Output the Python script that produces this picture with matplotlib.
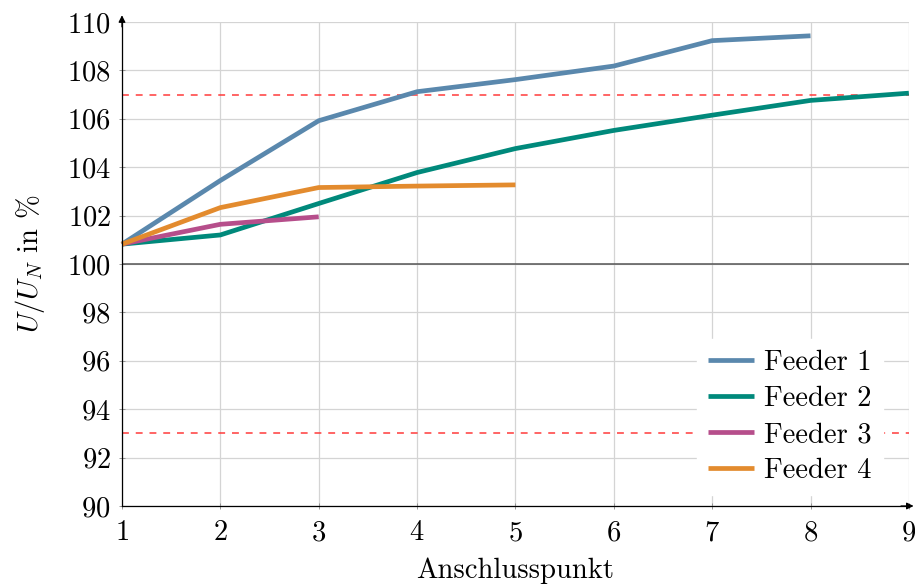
import matplotlib
matplotlib.use("Agg")
import matplotlib.pyplot as plt

# Connection points along each feeder and the voltage at each (in % of U_N)
feeder1_x = [1, 2, 3, 4, 5, 6, 7, 8]
feeder1_u = [100.82, 103.45, 105.92, 107.12, 107.62, 108.18, 109.23, 109.43]

feeder2_x = [1, 2, 3, 4, 5, 6, 7, 8, 9]
feeder2_u = [100.82, 101.20, 102.50, 103.78, 104.77, 105.52, 106.15, 106.76, 107.06]

feeder3_x = [1, 2, 3]
feeder3_u = [100.82, 101.64, 101.95]

feeder4_x = [1, 2, 3, 4, 5]
feeder4_u = [100.82, 102.33, 103.16, 103.22, 103.27]

series_labels = ["Feeder 1", "Feeder 2", "Feeder 3", "Feeder 4"]
series_colors = ["#5a88ad", "#00897b", "#b64e8b", "#e38b2e"]

upper_limit = 107
lower_limit = 93
nominal = 100

x_ticks = [1, 2, 3, 4, 5, 6, 7, 8, 9]
y_ticks = [90, 92, 94, 96, 98, 100, 102, 104, 106, 108, 110]

plt.rcParams["font.family"] = "serif"
plt.rcParams["font.serif"] = ["cmr10"]
plt.rcParams["mathtext.fontset"] = "cm"
plt.rcParams["axes.formatter.use_mathtext"] = True
plt.rcParams["font.size"] = 20.6

fig = plt.figure(figsize=(9.15, 5.87), dpi=100)
ax = fig.add_axes([0.1333, 0.138, 0.86, 0.8245])

ax.set_xlim(1, 9)
ax.set_ylim(90, 110)
ax.set_xticks(x_ticks)
ax.set_yticks(y_ticks)
ax.grid(True, color="#d4d4d4", linewidth=0.9)
ax.set_axisbelow(True)

for s in ("top", "right"):
    ax.spines[s].set_visible(False)
for s in ("left", "bottom"):
    ax.spines[s].set_linewidth(0.9)
    ax.spines[s].set_zorder(5)

ax.tick_params(direction="inout", length=4, width=0.6, color="#888888", pad=6)
ax.tick_params(axis="x", pad=8)

# arrow heads at the ends of the axes
ax.annotate("", xy=(0, 1.014), xytext=(0, 0.99), xycoords="axes fraction",
            arrowprops=dict(arrowstyle="-|>", color="black", lw=0.9,
                            mutation_scale=10, shrinkA=0, shrinkB=0),
            annotation_clip=False)
ax.annotate("", xy=(1.006, 0), xytext=(0.99, 0), xycoords="axes fraction",
            arrowprops=dict(arrowstyle="-|>", color="black", lw=0.9,
                            mutation_scale=10, shrinkA=0, shrinkB=0),
            annotation_clip=False)

ax.axhline(nominal, color="#555555", linewidth=1.1, zorder=2)
for lim in (upper_limit, lower_limit):
    ax.axhline(lim, color="#ff3b3b", linewidth=1.1, dashes=(4.5, 4.5), zorder=2)

series = [(feeder1_x, feeder1_u), (feeder2_x, feeder2_u),
          (feeder3_x, feeder3_u), (feeder4_x, feeder4_u)]
for (xs, us), lab, col in zip(series, series_labels, series_colors):
    ax.plot(xs, us, color=col, linewidth=3.4, label=lab, zorder=3,
            solid_joinstyle="miter", solid_capstyle="butt", clip_on=False)

ax.set_xlabel("Anschlusspunkt", labelpad=8)
ax.set_ylabel(r"$U/U_N$ in %", labelpad=14)

leg = ax.legend(loc="lower right", bbox_to_anchor=(1.0, -0.031),
                frameon=True, fancybox=False,
                edgecolor="white", framealpha=1.0, handlelength=1.6,
                handletextpad=0.35, labelspacing=0.33, borderpad=0.4,
                borderaxespad=0.9)
leg.set_zorder(10)

fig.savefig("out.png", dpi=100)
